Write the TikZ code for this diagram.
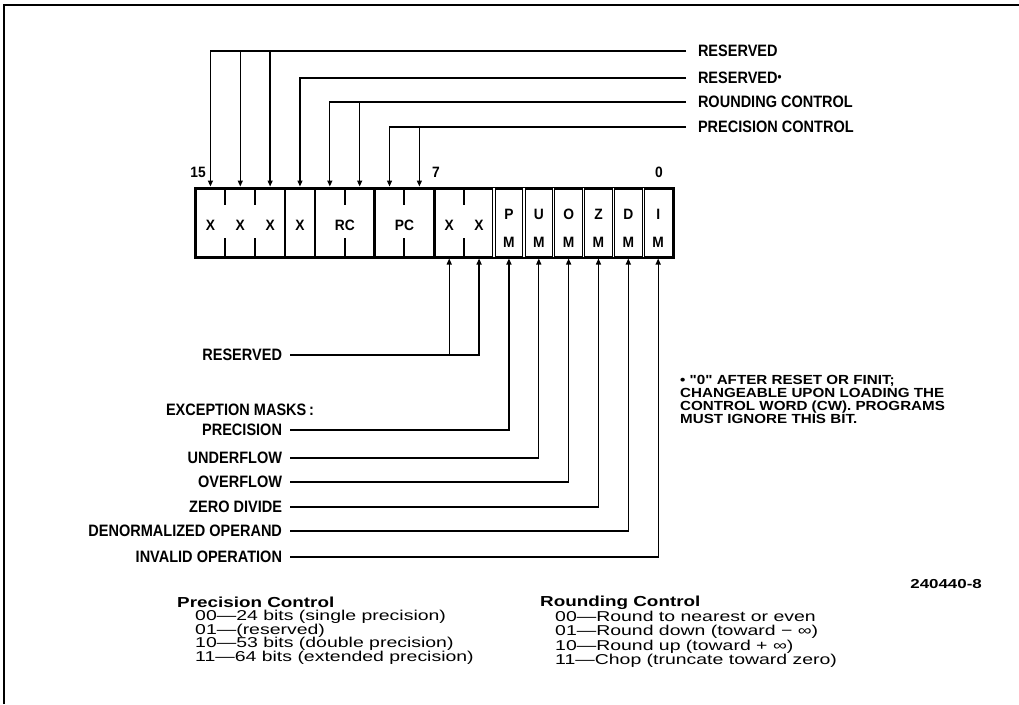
\documentclass[tikz,border=0pt]{standalone}
\usepackage{fontspec}
\setmainfont{Liberation Sans}
\newfontfamily\labfont[FakeStretch=0.88]{Liberation Sans}
\newfontfamily\regfont[FakeStretch=0.92]{Liberation Sans}
\newfontfamily\notefont[FakeStretch=1.15]{Liberation Sans}
\newfontfamily\tabfont[FakeStretch=1.3]{Liberation Sans}
\newfontfamily\tabbodyfont[FakeStretch=1.36]{Liberation Sans}
\usetikzlibrary{arrows.meta}
\begin{document}
\begin{tikzpicture}[x=1pt,y=-1pt,
  conn/.style={line width=1.3pt},
  arr/.style={conn,-{Triangle[length=6pt,width=5pt]}},
  lab/.style={font=\labfont\bfseries\fontsize{16.5}{16.5}\selectfont, inner ysep=0pt, outer sep=0pt, text height=11.8pt, text depth=0pt},
  toplab/.style={lab, anchor=west, inner xsep=12pt},
  leftlab/.style={lab, anchor=east, inner xsep=8pt},
  regtxt/.style={font=\regfont\bfseries\fontsize{15}{15}\selectfont, inner sep=0pt},
  note/.style={font=\notefont\bfseries\fontsize{13.2}{13.2}\selectfont, anchor=base west, inner sep=0pt},
  tabhead/.style={font=\tabfont\bfseries\fontsize{14.5}{14.5}\selectfont, anchor=base west, inner sep=0pt},
  tabline/.style={font=\tabbodyfont\fontsize{14.3}{14.3}\selectfont, anchor=base west, inner sep=0pt},
  divider/.style={line width=2.4pt},
  dbl/.style={line width=1.1pt, double=white, double distance=1.3pt},
  tick/.style={line width=2pt}
]
\useasboundingbox (0,0) rectangle (1019,704);
\fill[white] (0,0) rectangle (1019,704);
% frame
\draw[line width=2pt] (4,704) -- (4,5) -- (1019,5);

% register
\node[draw, line width=3pt, minimum width=477.6pt, minimum height=69pt, inner sep=0pt, outer sep=0pt, anchor=north west] (reg) at (195.5,188) {};
\foreach \i in {0,...,15} {
  \coordinate (t\i) at ({195.5+(15-\i)*29.85+14.925},186.5);
  \coordinate (b\i) at ({195.5+(15-\i)*29.85+14.925},258.5);
}
% group dividers
\foreach \k in {3,4,6,8} {
  \draw[divider] ({195.5+\k*29.85},188) -- ({195.5+\k*29.85},257);
}
\foreach \k in {10,11,12,13,14,15} {
  \draw[dbl] ({195.5+\k*29.85},188) -- ({195.5+\k*29.85},257);
}
% ticks
\foreach \k in {1,2,5,7,9} {
  \draw[tick] ({195.5+\k*29.85},188) -- ({195.5+\k*29.85},205);
  \draw[tick] ({195.5+\k*29.85},238) -- ({195.5+\k*29.85},257);
}
% register texts
\node[regtxt] (x15) at (t15 |- 0,225) {X};
\node[regtxt] (x14) at (t14 |- 0,225) {X};
\node[regtxt] (x13) at (t13 |- 0,225) {X};
\node[regtxt] (x12) at (t12 |- 0,225) {X};
\node[regtxt] (rcf) at ({195.5+5*29.85},225) {RC};
\node[regtxt] (pcf) at ({195.5+7*29.85},225) {PC};
\node[regtxt] (x7) at (t7 |- 0,225) {X};
\node[regtxt] (x6) at (t6 |- 0,225) {X};
\node[regtxt] (p1) at (t5 |- 0,214) {P};
\node[regtxt] (p2) at (t5 |- 0,242) {M};
\node[regtxt] (u1) at (t4 |- 0,214) {U};
\node[regtxt] (u2) at (t4 |- 0,242) {M};
\node[regtxt] (o1) at (t3 |- 0,214) {O};
\node[regtxt] (o2) at (t3 |- 0,242) {M};
\node[regtxt] (z1) at (t2 |- 0,214) {Z};
\node[regtxt] (z2) at (t2 |- 0,242) {M};
\node[regtxt] (d1) at (t1 |- 0,214) {D};
\node[regtxt] (d2) at (t1 |- 0,242) {M};
\node[regtxt] (i1) at (t0 |- 0,214) {I};
\node[regtxt] (i2) at (t0 |- 0,242) {M};

% bit numbers
\node[regtxt] (n15) at (198,172) {15};
\node[regtxt] (n7) at (436,172) {7};
\node[regtxt] (n0) at (659,172) {0};

% top labels
\node[toplab] (rsv1) at (686,51) {RESERVED};
\node[toplab] (rsv2) at (686,78) {RESERVED\raisebox{2.5pt}{\fontsize{13}{13}\selectfont•}};
\node[toplab] (rcl) at (686,102) {ROUNDING CONTROL};
\node[toplab] (pcl) at (686,127) {PRECISION CONTROL};

\draw[arr] (rsv1.west) -| (t15);
\draw[arr] (t14 |- rsv1.west) -- (t14);
\draw[arr] (t13 |- rsv1.west) -- (t13);
\draw[arr] (rsv2.west) -| (t12);
\draw[arr] (rcl.west) -| (t11);
\draw[arr] (t10 |- rcl.west) -- (t10);
\draw[arr] (pcl.west) -| (t9);
\draw[arr] (t8 |- pcl.west) -- (t8);

% bottom labels
\node[leftlab] (rsvb) at (290,355) {RESERVED};
\node[lab, anchor=west, inner xsep=0pt] (exc) at (166,410) {EXCEPTION MASKS\,:};
\node[leftlab] (pm) at (290,430) {PRECISION};
\node[leftlab] (um) at (290,458) {UNDERFLOW};
\node[leftlab] (om) at (290,482) {OVERFLOW};
\node[leftlab] (zm) at (290,507) {ZERO DIVIDE};
\node[leftlab] (dm) at (290,531) {DENORMALIZED OPERAND};
\node[leftlab] (im) at (290,557) {INVALID OPERATION};

\draw[arr] (rsvb.east) -| (b6);
\draw[arr] (b7 |- rsvb.east) -- (b7);
\draw[arr] (pm.east) -| (b5);
\draw[arr] (um.east) -| (b4);
\draw[arr] (om.east) -| (b3);
\draw[arr] (zm.east) -| (b2);
\draw[arr] (dm.east) -| (b1);
\draw[arr] (im.east) -| (b0);

% footnote
\node[note] (fn1) at (680,384) {• "0" AFTER RESET OR FINIT;};
\node[note] (fn2) at (680,397.3) {CHANGEABLE UPON LOADING THE};
\node[note] (fn3) at (680,410.6) {CONTROL WORD (CW). PROGRAMS};
\node[note] (fn4) at (680,423.9) {MUST IGNORE THIS BIT.};

% figure number
\node[font=\tabfont\bfseries\fontsize{13}{13}\selectfont, anchor=base east, inner sep=0pt] (fig) at (982,588) {240440-8};

% precision control table
\node[tabhead] (pch) at (177,607) {Precision Control};
\node[tabline] (pc0) at (195,620.2) {00—24 bits (single precision)};
\node[tabline] (pc1) at (195,634.3) {01—(reserved)};
\node[tabline] (pc2) at (195,647.8) {10—53 bits (double precision)};
\node[tabline] (pc3) at (195,661.2) {11—64 bits (extended precision)};

% rounding control table
\node[tabhead] (rch) at (540,606.5) {Rounding Control};
\node[tabline] (rc0) at (555,621.8) {00—Round to nearest or even};
\node[tabline] (rc1) at (555,635.8) {01—Round down (toward − ∞)};
\node[tabline] (rc2) at (555,650.1) {10—Round up (toward + ∞)};
\node[tabline] (rc3) at (555,664.3) {11—Chop (truncate toward zero)};
\end{tikzpicture}
\end{document}
